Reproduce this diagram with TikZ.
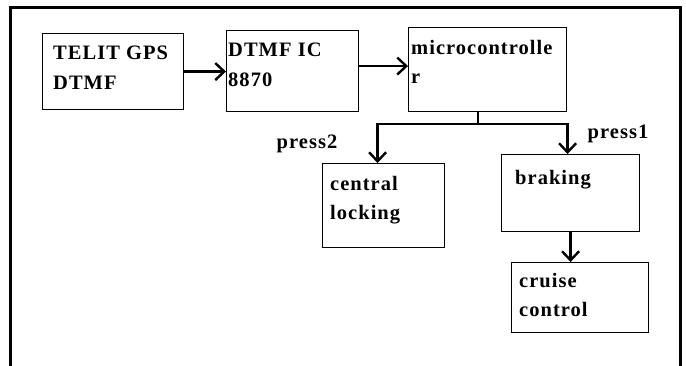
\documentclass[tikz,border=0pt]{standalone}
\usepackage{fontspec}
\setmainfont{Liberation Serif}[LetterSpace=5]
\usetikzlibrary{arrows.meta}
\tikzset{
  box/.style={draw=black, line width=1.1pt, rectangle, anchor=north west, inner sep=0pt},
  txt/.style={anchor=north west, inner sep=0pt, align=left, font=\fontsize{20.5}{29.5}\selectfont\bfseries},
  lbl/.style={inner sep=0pt, font=\fontsize{20.5}{29.5}\selectfont\bfseries},
  conn/.style={line width=2.8pt, -{Straight Barb[length=9pt,width=17pt,line width=2.4pt]}},
  plain/.style={line width=2.8pt},
  frame/.style={line width=3pt}
}
\begin{document}
\begin{tikzpicture}[x=1pt,y=-1pt]
\useasboundingbox (0,0) rectangle (686,366);
\draw[frame] (10,370) -- (10,8) -- (680,8) -- (680,370);
% boxes
\node[box, minimum width=141pt, minimum height=76pt] (b1) at (42,33) {};
\node[box, minimum width=132pt, minimum height=81pt] (b2) at (226,30) {};
\node[box, minimum width=158pt, minimum height=84pt] (b3) at (408,27) {};
\node[box, minimum width=122pt, minimum height=84pt] (b4) at (322,163) {};
\node[box, minimum width=138pt, minimum height=77pt] (b5) at (501,154) {};
\node[box, minimum width=137pt, minimum height=70pt] (b6) at (511,262) {};
% texts
\node[txt] (t1) at (53,46) {TELIT GPS\\DTMF};
\node[txt] (t2) at (228,43) {DTMF IC\\8870};
\node[txt] (t3) at (411,40) {microcontrolle\\r};
\node[txt] (t4) at (330,176) {central\\locking};
\node[txt] (t5) at (515,170) {braking};
\node[txt] (t6) at (519,273) {cruise\\control};
\node[lbl] (p2) at (307,144) {press2};
\node[lbl] (p1) at (618,134) {press1};
% connectors
\draw[conn] (b1.east) -- (b1.east -| b2.west);
\draw[conn] ([yshift=5pt]b2.east) -- ([yshift=5pt]b2.east -| b3.west);
\coordinate (j) at (478,124);
\draw[plain] (b3.south -| j) -- (j);
\draw[conn] (j) -| ([xshift=-6pt]b4.north);
\draw[conn] (j) -| ([xshift=-3pt]b5.north);
\draw[conn] (b5.south) -- (b5.south |- b6.north);
\end{tikzpicture}
\end{document}
